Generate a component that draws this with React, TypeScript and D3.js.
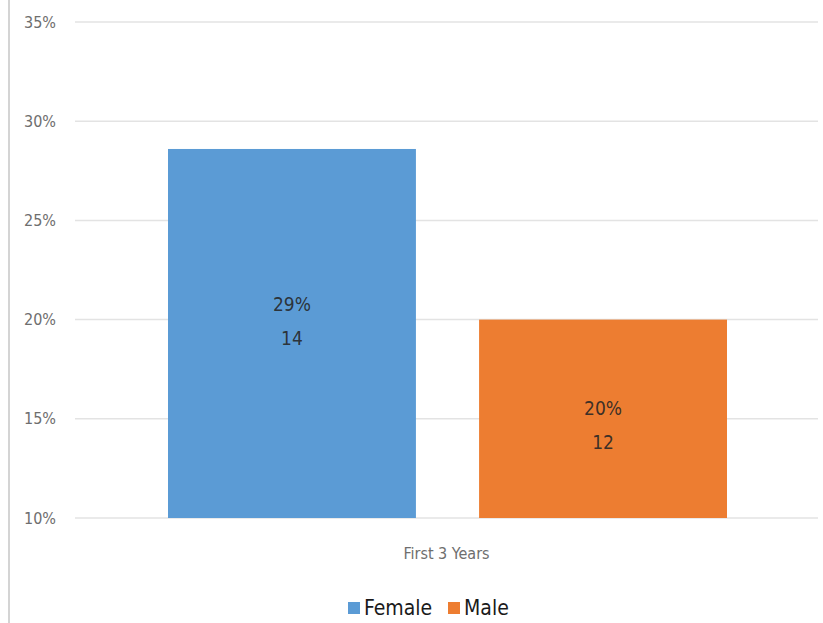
import React from "react";
import * as d3 from "d3";

// chart data
const categories = ["First 3 Years"];
const seriesNames = ["Female", "Male"];
const seriesPct = [28.6, 20.0];
const seriesCount = [14, 12];
const seriesColors = ["#5b9bd5", "#ed7d31"];
const yTicks = [10, 15, 20, 25, 30, 35];

const W = 823;
const H = 623;
const font = "'Liberation Sans Narrow', 'DejaVu Sans Condensed', 'Open Sans', sans-serif";

const App = () => {
  const plotLeft = 75,
    plotRight = 818,
    plotTop = 22,
    plotBottom = 518;

  const y = d3.scaleLinear().domain([10, 35]).range([plotBottom, plotTop]);
  const x0 = d3.scaleBand().domain(categories).range([plotLeft, plotRight]).paddingInner(0).paddingOuter(0);
  // inner band for the two series inside the category
  const x1 = d3
    .scaleBand()
    .domain(seriesNames)
    .range([93, x0.bandwidth() - 91])
    .paddingInner(0.203);

  const fmt = (v: number) => d3.format(".0f")(v) + "%";
  // label block nudge per bar (Excel put them a bit off-centre)
  const labelShift = [-12, 7];

  return (
    <svg
      width={W}
      height={H}
      style={{ position: "absolute", left: 0, top: 0, background: "#fff" }}
      fontFamily={font}
    >
      {/* frame edge on the left */}
      <line x1={9} x2={9} y1={0} y2={H} stroke="#d4d4d4" strokeWidth={2} />

      {/* gridlines & y labels */}
      {yTicks.map((t) => (
        <g key={t}>
          <line
            x1={plotLeft}
            x2={plotRight}
            y1={y(t)}
            y2={y(t)}
            stroke="#e3e3e3"
            strokeWidth={1.5}
          />
          <text
            x={56}
            y={y(t)}
            dy="0.35em"
            textAnchor="end"
            fontSize={16}
            fill="#6e6e6e"
          >
            {t}%
          </text>
        </g>
      ))}

      {/* bars */}
      {categories.map((c) => (
        <g key={c} transform={`translate(${x0(c)},0)`}>
          {seriesNames.map((s, i) => {
            const bx = x1(s) as number;
            const top = y(seriesPct[i]);
            const cx = bx + x1.bandwidth() / 2;
            const mid = (top + plotBottom) / 2 + labelShift[i];
            return (
              <g key={s}>
                <rect
                  x={bx}
                  y={top}
                  width={x1.bandwidth()}
                  height={plotBottom - top}
                  fill={seriesColors[i]}
                />
                <text
                  x={cx}
                  y={mid - 17}
                  textAnchor="middle"
                  dy="0.35em"
                  fontSize={19}
                  fill="#262626"
                  fillOpacity={0.9}
                >
                  {fmt(seriesPct[i])}
                </text>
                <text
                  x={cx}
                  y={mid + 17}
                  textAnchor="middle"
                  dy="0.35em"
                  fontSize={19}
                  fill="#262626"
                  fillOpacity={0.9}
                >
                  {seriesCount[i]}
                </text>
              </g>
            );
          })}
          <text
            x={x0.bandwidth() / 2}
            y={553}
            dy="0.35em"
            textAnchor="middle"
            fontSize={16}
            fill="#6e6e6e"
          >
            {c}
          </text>
        </g>
      ))}

      {/* legend */}
      <g transform="translate(348,608)">
        {seriesNames.map((s, i) => {
          const off = i === 0 ? 0 : 100;
          return (
            <g key={s} transform={`translate(${off},0)`}>
              <rect x={0} y={-6} width={12} height={12} fill={seriesColors[i]} />
              <text x={16} y={0} dy="0.35em" fontSize={21} fill="#1a1a1a">
                {s}
              </text>
            </g>
          );
        })}
      </g>
    </svg>
  );
};

export default App;
